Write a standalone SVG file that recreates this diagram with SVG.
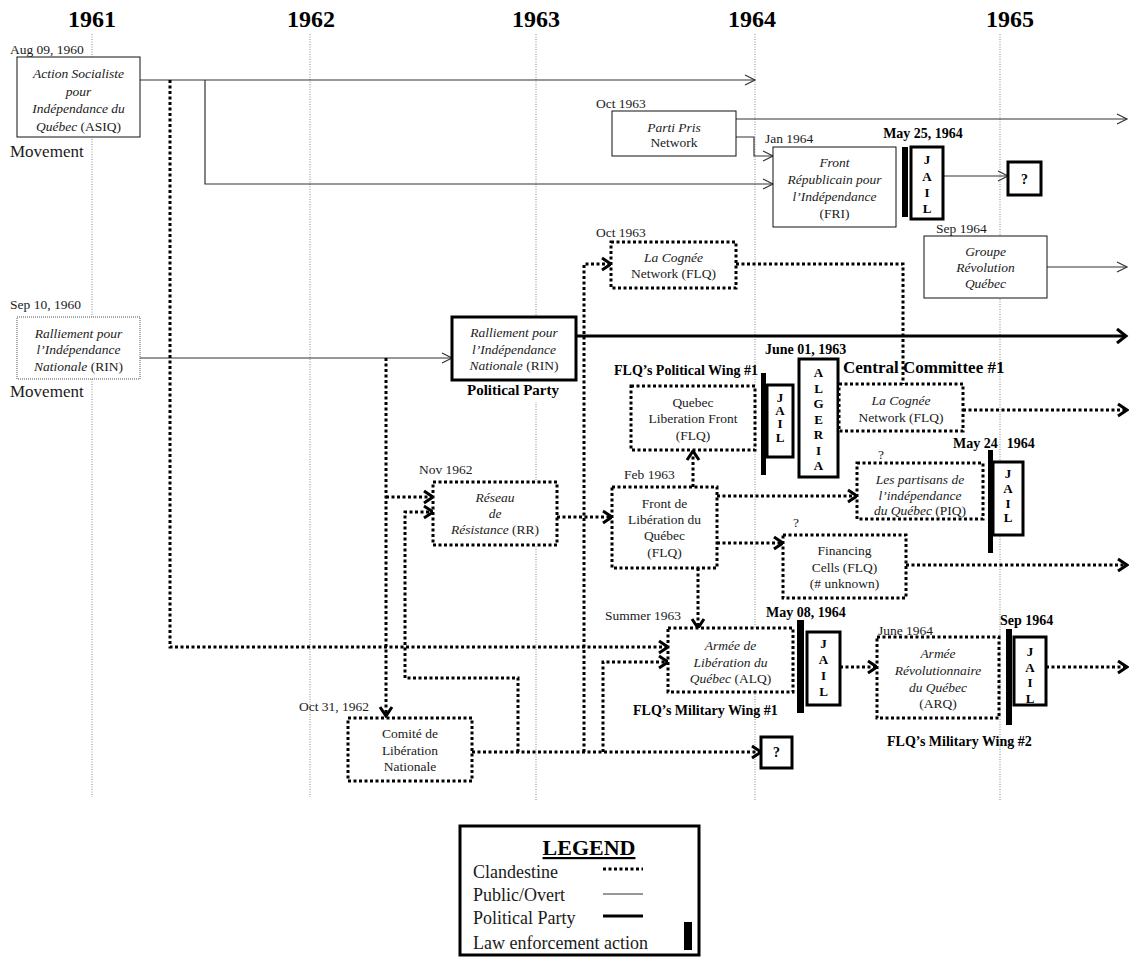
<svg xmlns="http://www.w3.org/2000/svg" width="1129" height="958" viewBox="0 0 1129 958">
<style>
text{font-family:"Liberation Serif","Times New Roman",serif;fill:#1a1a1a}
.grid{stroke:#8a8a8a;stroke-width:1;stroke-dasharray:1 1.5;fill:none}
.thin{stroke:#333;stroke-width:1.2;fill:none}
.thick{stroke:#000;stroke-width:3;fill:none}
.dot{stroke:#000;stroke-width:3;stroke-dasharray:3 2.5;fill:none}
.box{fill:#fff;stroke:#111;stroke-width:1}
.dbox{fill:#fff;stroke:#000;stroke-width:3;stroke-dasharray:3 2.5}
.gbox{fill:#fff;stroke:#555;stroke-width:1;stroke-dasharray:1 1}
.pbox{fill:#fff;stroke:#000;stroke-width:3}
.bar{fill:#000}
.yr{font-size:24px;font-weight:bold;text-anchor:middle;fill:#000}
.t{font-size:13.5px;text-anchor:middle}
.i{font-style:italic}
.d{font-size:13.5px}
.bd{font-size:14px;font-weight:bold;fill:#000}
.jl{font-size:13px;font-weight:bold;text-anchor:middle;fill:#000}
.mv{font-size:17px}
.lg{font-size:18px}
</style>
<defs>
<marker id="ah" markerUnits="userSpaceOnUse" markerWidth="12" markerHeight="12" refX="10" refY="5" orient="auto" overflow="visible"><path d="M0,0 L10,5 L0,10" fill="none" stroke="#333" stroke-width="1.2" stroke-dasharray="none"/></marker>
<marker id="ahd" markerUnits="userSpaceOnUse" markerWidth="12" markerHeight="14" refX="9" refY="6" orient="auto" overflow="visible"><path d="M0,0 L9,6 L0,12" fill="none" stroke="#000" stroke-width="3" stroke-dasharray="none"/></marker>
<marker id="aht" markerUnits="userSpaceOnUse" markerWidth="12" markerHeight="16" refX="9" refY="7" orient="auto" overflow="visible"><path d="M0,0 L9,7 L0,14" fill="none" stroke="#000" stroke-width="3" stroke-dasharray="none"/></marker>
</defs>
<rect width="1129" height="958" fill="#fff"/>
<g id="timeline">
<text class="yr" x="92" y="27">1961</text>
<text class="yr" x="311" y="27">1962</text>
<text class="yr" x="536" y="27">1963</text>
<text class="yr" x="752" y="27">1964</text>
<text class="yr" x="1010" y="27">1965</text>
<path class="grid" d="M92,34 V797 M310,34 V797 M536,34 V800 M755,34 V800 M1000,34 V800"/>
</g>
<g id="connectors">
<path class="thin" d="M140,80 H755" marker-end="url(#ah)"/>
<path class="thin" d="M205,80 V184 H773" marker-end="url(#ah)"/>
<path class="thin" d="M736,119 H1127" marker-end="url(#ah)"/>
<path class="thin" d="M736,137 H754 V156 H773" marker-end="url(#ah)"/>
<path class="thin" d="M943,176 H1008" marker-end="url(#ah)"/>
<path class="thin" d="M1047,267 H1127" marker-end="url(#ah)"/>
<path class="thin" d="M140,358 H452" marker-end="url(#ah)"/>
<path class="thick" d="M576,336 H1126" marker-end="url(#aht)"/>
<path class="dot" d="M170,80 V647 H668" marker-end="url(#ahd)"/>
<path class="dot" d="M386,358 V716" marker-end="url(#ahd)"/>
<path class="dot" d="M386,497 H433" marker-end="url(#ahd)"/>
<path class="dot" d="M518,752 V678 H405 V512 H433" marker-end="url(#ahd)"/>
<path class="dot" d="M472,752 H761" marker-end="url(#ahd)"/>
<path class="dot" d="M584,752 V264 H611" marker-end="url(#ahd)"/>
<path class="dot" d="M603,752 V662 H668" marker-end="url(#ahd)"/>
<path class="dot" d="M736,264 H903 V384"/>
<path class="dot" d="M557,517 H612" marker-end="url(#ahd)"/>
<path class="dot" d="M693,487 V451" marker-end="url(#ahd)"/>
<path class="dot" d="M717,496 H857" marker-end="url(#ahd)"/>
<path class="dot" d="M717,543 H783" marker-end="url(#ahd)"/>
<path class="dot" d="M698,568 V628" marker-end="url(#ahd)"/>
<path class="dot" d="M963,410 H1127" marker-end="url(#ahd)"/>
<path class="dot" d="M906,565 H1127" marker-end="url(#ahd)"/>
<path class="dot" d="M840,667 H877" marker-end="url(#ahd)"/>
<path class="dot" d="M1046,667 H1127" marker-end="url(#ahd)"/>
</g>
<g id="asiq">
<text class="d" x="10" y="54">Aug 09, 1960</text>
<rect class="box" x="17" y="57" width="123" height="80"/>
<text class="t i" x="78.5" y="78">Action Socialiste</text>
<text class="t i" x="78.5" y="95.5">pour</text>
<text class="t i" x="78.5" y="113">Indépendance du</text>
<text class="t" x="78.5" y="130.5"><tspan class="i">Québec</tspan> (ASIQ)</text>
<text class="mv" x="10" y="157">Movement</text>
</g>
<g id="partipris">
<text class="d" x="596" y="108">Oct 1963</text>
<rect class="box" x="612" y="111" width="124" height="45"/>
<text class="t i" x="674" y="132">Parti Pris</text>
<text class="t" x="674" y="147">Network</text>
</g>
<g id="fri">
<text class="d" x="765" y="143">Jan 1964</text>
<rect class="box" x="773" y="147" width="123" height="80"/>
<text class="t i" x="834.5" y="167">Front</text>
<text class="t i" x="834.5" y="184">Républicain pour</text>
<text class="t i" x="834.5" y="201">l’Indépendance</text>
<text class="t" x="834.5" y="218">(FRI)</text>
</g>
<g id="jail-fri">
<text class="bd" x="923" y="138" text-anchor="middle">May 25, 1964</text>
<rect class="bar" x="902" y="147" width="6" height="70"/>
<rect class="pbox" x="911" y="147" width="32" height="72"/>
<text class="jl" x="927" y="164">J</text>
<text class="jl" x="927" y="181">A</text>
<text class="jl" x="927" y="197">I</text>
<text class="jl" x="927" y="213">L</text>
</g>
<g id="unknown-fri">
<rect class="pbox" x="1008" y="162" width="33" height="33"/>
<text class="jl" x="1024.5" y="184" style="font-size:14px">?</text>
</g>
<g id="groupe">
<text class="d" x="936" y="233">Sep 1964</text>
<rect class="box" x="924" y="236" width="123" height="62"/>
<text class="t i" x="985.5" y="256">Groupe</text>
<text class="t i" x="985.5" y="272">Révolution</text>
<text class="t i" x="985.5" y="288">Québec</text>
</g>
<g id="lacognee1">
<text class="d" x="596" y="237">Oct 1963</text>
<rect class="dbox" x="611" y="242" width="125" height="46"/>
<text class="t i" x="673.5" y="262">La Cognée</text>
<text class="t" x="673.5" y="278">Network (FLQ)</text>
</g>
<g id="rin-movement">
<text class="d" x="10" y="309">Sep 10, 1960</text>
<rect class="gbox" x="17" y="317" width="123" height="62"/>
<text class="t i" x="78.5" y="338">Ralliement pour</text>
<text class="t i" x="78.5" y="354">l’Indépendance</text>
<text class="t" x="78.5" y="371"><tspan class="i">Nationale</tspan> (RIN)</text>
<text class="mv" x="10" y="397">Movement</text>
</g>
<g id="rin-party">
<rect class="pbox" x="452" y="317" width="124" height="63"/>
<text class="t i" x="514" y="337">Ralliement pour</text>
<text class="t i" x="514" y="354">l’Indépendance</text>
<text class="t" x="514" y="370"><tspan class="i">Nationale</tspan> (RIN)</text>
<rect x="464" y="382" width="100" height="20" fill="#fff"/>
<text class="bd" x="513" y="395" text-anchor="middle" style="font-size:15px">Political Party</text>
</g>
<g id="qlf">
<text class="bd" x="614" y="375">FLQ’s Political  Wing #1</text>
<rect class="dbox" x="631" y="386" width="124" height="64"/>
<text class="t" x="693" y="407">Quebec</text>
<text class="t" x="693" y="423">Liberation Front</text>
<text class="t" x="693" y="440">(FLQ)</text>
</g>
<g id="jail-qlf">
<rect class="bar" x="761" y="373" width="5" height="102"/>
<rect class="pbox" x="767" y="385" width="26" height="72"/>
<text class="jl" x="780" y="402">J</text>
<text class="jl" x="780" y="415">A</text>
<text class="jl" x="780" y="428">I</text>
<text class="jl" x="780" y="442">L</text>
</g>
<g id="algeria">
<text class="bd" x="765" y="354">June 01, 1963</text>
<rect class="pbox" x="799" y="359" width="39" height="118"/>
<text class="jl" x="818.5" y="377">A</text>
<text class="jl" x="818.5" y="392.5">L</text>
<text class="jl" x="818.5" y="408">G</text>
<text class="jl" x="818.5" y="423.5">E</text>
<text class="jl" x="818.5" y="439">R</text>
<text class="jl" x="818.5" y="454.5">I</text>
<text class="jl" x="818.5" y="470">A</text>
</g>
<g id="lacognee2">
<text class="bd" x="843" y="373" style="font-size:17px">Central Committee #1</text>
<rect class="dbox" x="839" y="384" width="124" height="47"/>
<text class="t i" x="901" y="405">La Cognée</text>
<text class="t" x="901" y="422">Network (FLQ)</text>
</g>
<g id="piq">
<text class="d" x="878" y="459" fill="#555">?</text>
<rect class="dbox" x="857" y="463" width="126" height="56"/>
<text class="t i" x="920" y="484">Les partisans de</text>
<text class="t i" x="920" y="500">l’indépendance</text>
<text class="t" x="920" y="515"><tspan class="i">du Québec</tspan> (PIQ)</text>
</g>
<g id="jail-piq">
<text class="bd" x="953" y="448">May 24<tspan dx="9">1964</tspan></text>
<rect class="bar" x="988" y="450" width="5" height="103"/>
<rect class="pbox" x="993" y="462" width="30" height="73"/>
<text class="jl" x="1008" y="478">J</text>
<text class="jl" x="1008" y="493">A</text>
<text class="jl" x="1008" y="508">I</text>
<text class="jl" x="1008" y="522">L</text>
</g>
<g id="rr">
<text class="d" x="419" y="474">Nov 1962</text>
<rect class="dbox" x="433" y="482" width="124" height="63"/>
<text class="t i" x="495" y="502">Réseau</text>
<text class="t i" x="495" y="518">de</text>
<text class="t" x="495" y="534"><tspan class="i">Résistance</tspan> (RR)</text>
</g>
<g id="flq">
<text class="d" x="624" y="479">Feb 1963</text>
<rect class="dbox" x="612" y="487" width="105" height="81"/>
<text class="t" x="664.5" y="508">Front de</text>
<text class="t" x="664.5" y="524">Libération du</text>
<text class="t" x="664.5" y="540">Québec</text>
<text class="t" x="664.5" y="557">(FLQ)</text>
</g>
<g id="financing">
<text class="d" x="793" y="527" fill="#555">?</text>
<rect class="dbox" x="783" y="535" width="123" height="63"/>
<text class="t" x="844.5" y="555">Financing</text>
<text class="t" x="844.5" y="572">Cells (FLQ)</text>
<text class="t" x="844.5" y="588">(# unknown)</text>
</g>
<g id="alq">
<text class="d" x="605" y="620">Summer 1963</text>
<rect class="dbox" x="668" y="628" width="125" height="64"/>
<text class="t i" x="730.5" y="650">Armée de</text>
<text class="t i" x="730.5" y="667">Libération du</text>
<text class="t" x="730.5" y="683"><tspan class="i">Québec</tspan> (ALQ)</text>
<text class="bd" x="633" y="715">FLQ’s Military  Wing #1</text>
</g>
<g id="jail-alq">
<text class="bd" x="766" y="617">May 08, 1964</text>
<rect class="bar" x="797" y="620" width="7" height="93"/>
<rect class="pbox" x="807" y="632" width="33" height="73"/>
<text class="jl" x="823.5" y="648">J</text>
<text class="jl" x="823.5" y="664">A</text>
<text class="jl" x="823.5" y="680">I</text>
<text class="jl" x="823.5" y="696">L</text>
</g>
<g id="arq">
<text class="d" x="878" y="635">June 1964</text>
<rect class="dbox" x="877" y="637" width="122" height="81"/>
<text class="t i" x="938" y="658">Armée</text>
<text class="t i" x="938" y="675">Révolutionnaire</text>
<text class="t i" x="938" y="692">du Québec</text>
<text class="t" x="938" y="708">(ARQ)</text>
<text class="bd" x="887" y="746">FLQ’s Military  Wing #2</text>
</g>
<g id="jail-arq">
<text class="bd" x="1000" y="625">Sep 1964</text>
<rect class="bar" x="1006" y="629" width="6" height="96"/>
<rect class="pbox" x="1014" y="637" width="32" height="68"/>
<text class="jl" x="1030" y="656">J</text>
<text class="jl" x="1030" y="672">A</text>
<text class="jl" x="1030" y="687">I</text>
<text class="jl" x="1030" y="703">L</text>
</g>
<g id="cln">
<text class="d" x="299" y="711">Oct 31, 1962</text>
<rect class="dbox" x="348" y="718" width="124" height="63"/>
<text class="t" x="410" y="738">Comité de</text>
<text class="t" x="410" y="755">Libération</text>
<text class="t" x="410" y="771">Nationale</text>
</g>
<g id="unknown-cln">
<rect class="pbox" x="761" y="737" width="31" height="31"/>
<text class="jl" x="776.5" y="757" style="font-size:14px">?</text>
</g>
<g id="legend">
<rect x="460" y="826" width="239" height="129" fill="#fff" stroke="#000" stroke-width="3"/>
<text x="589" y="855" text-anchor="middle" style="font-size:22px;font-weight:bold;text-decoration:underline;fill:#000">LEGEND</text>
<text class="lg" x="473" y="878">Clandestine</text>
<text class="lg" x="473" y="901">Public/Overt</text>
<text class="lg" x="473" y="924">Political Party</text>
<text class="lg" x="473" y="949">Law enforcement action</text>
<path class="dot" d="M603,869 H643"/>
<path class="thin" d="M603,894 H643"/>
<path class="thick" d="M603,916 H643"/>
<rect class="bar" x="684" y="922" width="8" height="28"/>
</g>
</svg>
